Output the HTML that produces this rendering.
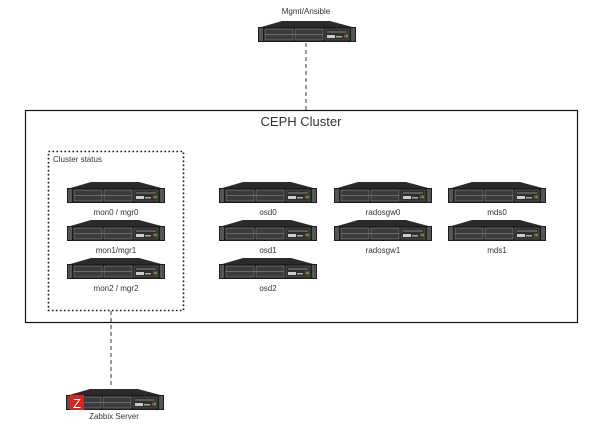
<!DOCTYPE html>
<html><head><meta charset="utf-8"><style>
html,body{margin:0;padding:0;background:#fff;}
body{width:600px;height:425px;overflow:hidden;}
svg text{font-family:"Liberation Sans","DejaVu Sans",sans-serif;fill:#333;}
</style></head><body>
<svg width="600" height="425" viewBox="0 0 600 425" xmlns="http://www.w3.org/2000/svg">
<defs>
<g id="srv">
  <polygon points="24,0 72,0 98,7 0,7" fill="#2a2a2a"/>
  <rect x="0" y="6" width="98" height="15" fill="#1c1c1c"/>
  <rect x="1" y="7" width="4" height="13" fill="#555"/>
  <rect x="93" y="7" width="4" height="13" fill="#555"/>
  <rect x="7" y="8" width="28" height="11" fill="#3b3b3b" stroke="#888" stroke-width="0.6"/>
  <rect x="37" y="8" width="28" height="11" fill="#3b3b3b" stroke="#888" stroke-width="0.6"/>
  <line x1="7" y1="13.5" x2="65" y2="13.5" stroke="#999" stroke-width="0.6"/>
  <rect x="67" y="8" width="24" height="11" fill="#2e2e2e" stroke="#777" stroke-width="0.5"/>
  <line x1="69" y1="11" x2="89" y2="11" stroke="#aaa" stroke-width="0.8"/>
  <rect x="69" y="14" width="8" height="3" fill="#ccc"/>
  <rect x="78" y="15" width="6" height="1.5" fill="#aaa"/>
  <rect x="86" y="13.5" width="2" height="3" fill="#c33"/>
  <rect x="88" y="13.5" width="2" height="3" fill="#3a3"/>
</g>
</defs>
<text x="306" y="14" font-size="8" text-anchor="middle">Mgmt/Ansible</text>
<use href="#srv" x="258" y="21"/>
<line x1="306" y1="43" x2="306" y2="110" stroke="#333" stroke-width="1" stroke-dasharray="4,3"/>
<rect x="25.5" y="110.5" width="552" height="212" fill="none" stroke="#111" stroke-width="1.2"/>
<text x="301" y="126" font-size="13" text-anchor="middle" fill="#111">CEPH Cluster</text>
<rect x="48.5" y="151.5" width="135" height="159" fill="none" stroke="#111" stroke-width="1.6" stroke-dasharray="1.6,2.4"/>
<text x="53" y="162" font-size="8">Cluster status</text>
<line x1="111" y1="311" x2="111" y2="388" stroke="#333" stroke-width="1" stroke-dasharray="4,3"/>

<use href="#srv" x="67" y="182"/><text x="116" y="215" font-size="8" text-anchor="middle">mon0 / mgr0</text>
<use href="#srv" x="67" y="220"/><text x="116" y="253" font-size="8" text-anchor="middle">mon1/mgr1</text>
<use href="#srv" x="67" y="258"/><text x="116" y="291" font-size="8" text-anchor="middle">mon2 / mgr2</text>

<use href="#srv" x="219" y="182"/><text x="268" y="215" font-size="8" text-anchor="middle">osd0</text>
<use href="#srv" x="219" y="220"/><text x="268" y="253" font-size="8" text-anchor="middle">osd1</text>
<use href="#srv" x="219" y="258"/><text x="268" y="291" font-size="8" text-anchor="middle">osd2</text>

<use href="#srv" x="334" y="182"/><text x="383" y="215" font-size="8" text-anchor="middle">radosgw0</text>
<use href="#srv" x="334" y="220"/><text x="383" y="253" font-size="8" text-anchor="middle">radosgw1</text>

<use href="#srv" x="448" y="182"/><text x="497" y="215" font-size="8" text-anchor="middle">mds0</text>
<use href="#srv" x="448" y="220"/><text x="497" y="253" font-size="8" text-anchor="middle">mds1</text>

<use href="#srv" x="66" y="389"/>
<rect x="70" y="395" width="14" height="15" fill="#d22"/>
<text x="77" y="408" font-size="13" text-anchor="middle" style="fill:#fff">Z</text>
<text x="114" y="419" font-size="8" text-anchor="middle">Zabbix Server</text>
</svg>
</body></html>
